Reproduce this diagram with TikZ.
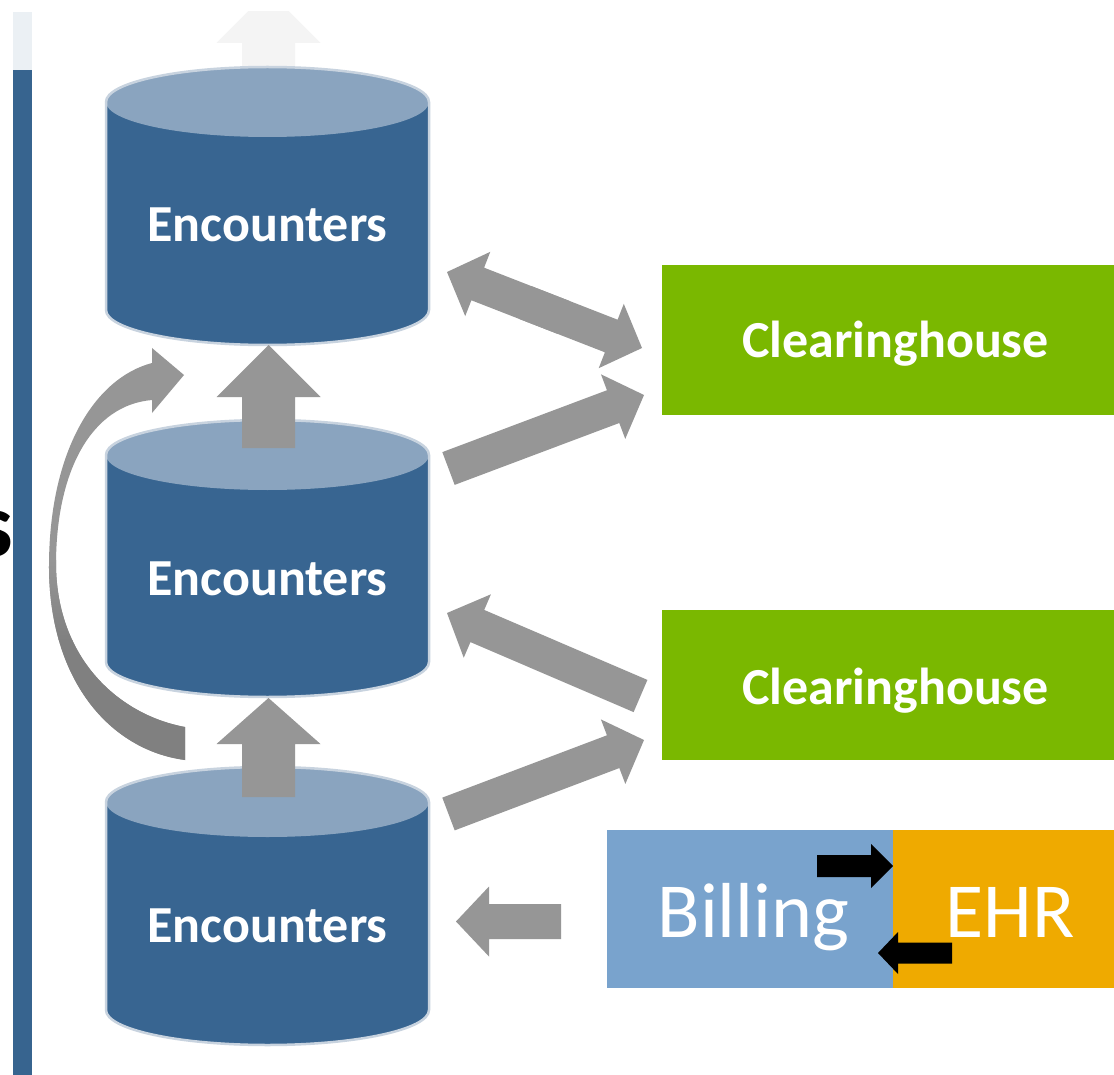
\documentclass[tikz,border=0pt]{standalone}
\usepackage{fontspec}
\setmainfont{Carlito}
\usetikzlibrary{calc}

\definecolor{encbody}{HTML}{386591}
\definecolor{encface}{HTML}{8AA4BF}
\definecolor{encrim}{HTML}{C8D3DF}
\definecolor{flowgray}{HTML}{969696}
\definecolor{flowdark}{HTML}{808080}
\definecolor{fadegray}{HTML}{F4F4F4}
\definecolor{chgreen}{HTML}{7AB800}
\definecolor{billblue}{HTML}{79A3CD}
\definecolor{ehrgold}{HTML}{EFAA00}
\definecolor{barblue}{HTML}{37648F}
\definecolor{barlight}{HTML}{EBF0F4}

% block arrow: style, tail, tip, shaft half-width, head half-width, head length
\newcommand\blockarrow[6]{%
  \coordinate (ba-neck) at ($(#3)!#6!(#2)$);
  \fill[#1] ($(#2)!#4!90:(#3)$) -- ($(ba-neck)!#4!90:(#3)$)
    -- ($(ba-neck)!#5!90:(#3)$) -- (#3)
    -- ($(ba-neck)!#5!-90:(#3)$) -- ($(ba-neck)!#4!-90:(#3)$)
    -- ($(#2)!#4!-90:(#3)$) -- cycle;
}

% database cylinder: label name, centre x, top ellipse y, bottom ellipse y
\newcommand\encdb[4]{%
  \fill[encbody] (#2-161.5,#3) -- (#2-161.5,#4)
    arc[start angle=180,end angle=0,x radius=161.5,y radius=35]
    -- (#2+161.5,#3)
    arc[start angle=0,end angle=-180,x radius=161.5,y radius=35] -- cycle;
  \fill[encface] (#2,#3) ellipse[x radius=161.5,y radius=35];
  \draw[encrim,line width=2.5] (#2-161.5,#3) -- (#2-161.5,#4)
    arc[start angle=180,end angle=0,x radius=161.5,y radius=35]
    -- (#2+161.5,#3)
    arc[start angle=0,end angle=-180,x radius=161.5,y radius=35] -- cycle;
  \node[enctext,anchor=base] (#1) at (#2,#3+140) {Encounters};
}

\tikzset{
  enctext/.style={text=white,inner sep=0,font=\fontsize{52}{60}\selectfont\bfseries},
  chbox/.style={fill=chgreen,draw=none,minimum width=452,minimum height=150,inner sep=0},
  chtext/.style={text=white,inner sep=0,font=\fontsize{52}{60}\selectfont\bfseries},
  bigtext/.style={text=white,inner sep=0,font=\fontsize{78}{90}\selectfont},
  billbox/.style={fill=billblue,draw=none,minimum width=286,minimum height=158,inner sep=0},
  ehrbox/.style={fill=ehrgold,draw=none,minimum width=221,minimum height=158,inner sep=0},
}

\begin{document}
\begin{tikzpicture}[x=1pt,y=-1pt]
\useasboundingbox (0,0) rectangle (1114,1075);
\fill[white] (0,0) rectangle (1114,1075);

% cut-off word at the left edge
\begin{scope}
  \clip (0,0) rectangle (40,1075);
  \node[anchor=base east,inner sep=0,font=\fontsize{92}{100}\selectfont\bfseries] (edgeword) at (13,556) {s};
\end{scope}

% side bar and faded arrow leaving the top
\begin{scope}
  \clip (0,12) rectangle (1114,1075);
  \fill[barlight] (13,12) rectangle (32,70);
  \fill[barblue] (13,70) rectangle (32,1075);
  \coordinate (outT) at (268.5,100);
  \coordinate (outP) at (268.5,-9);
  \blockarrow{fadegray}{outT}{outP}{26.5pt}{52pt}{52pt}
\end{scope}

% databases
\encdb{enc1}{267.5}{102}{310}
\encdb{enc2}{267.5}{455}{662}
\encdb{enc3}{267.5}{802}{1010}

% upward flow between databases
\coordinate (up1T) at (268.5,448);
\coordinate (up1P) at (268.5,345);
\blockarrow{flowgray}{up1T}{up1P}{26.5pt}{52pt}{52pt}
\coordinate (up2T) at (268.5,797);
\coordinate (up2P) at (268.5,698);
\blockarrow{flowgray}{up2T}{up2P}{26.5pt}{52pt}{46pt}

% curved bypass arrow from the lowest to the highest database
\def\bypass{(185,760) -- (185,727)
  .. controls (120,715) and (57,660) .. (56,565)
  .. controls (56,470) and (92,405) .. (152,400)
  -- (152,413) -- (184,375) -- (152,348) -- (152,363)
  .. controls (95,378) and (50,450) .. (49,563)
  .. controls (48,680) and (110,750) .. (185,760) -- cycle}
\fill[flowgray] \bypass;
\begin{scope}
  \clip \bypass;
  \shade[top color=flowgray,bottom color=flowdark] (0,560) rectangle (200,640);
  \fill[flowdark] (0,639) rectangle (200,780);
\end{scope}

% clearinghouses
\node[chbox] (ch1) at (888,340) {};
\node[chtext,anchor=base] (ch1label) at (895.5,358) {Clearinghouse};
\node[chbox] (ch2) at (888,685) {};
\node[chtext,anchor=base] (ch2label) at (895.5,704) {Clearinghouse};

% billing and EHR
\node[billbox] (bill) at (750,909) {};
\node[ehrbox] (ehr) at (1003.5,909) {};
\node[bigtext,anchor=base] (billlabel) at (753.5,937) {Billing};
\node[bigtext,anchor=base] (ehrlabel) at (1010,937) {EHR};
\coordinate (beT) at (817,866);
\coordinate (beP) at (893,866);
\blockarrow{black}{beT}{beP}{11pt}{22pt}{22pt}
\coordinate (ebT) at (952,953);
\coordinate (ebP) at (878,953);
\blockarrow{black}{ebT}{ebP}{10.5pt}{21pt}{20pt}

% exchanges with the clearinghouses
\coordinate (aL) at (447,272);
\coordinate (aR) at (642,348);
\coordinate (aM1) at ($(aL)!0.6!(aR)$);
\coordinate (aM2) at ($(aR)!0.6!(aL)$);
\blockarrow{flowgray}{aM1}{aL}{17.5pt}{34.5pt}{33pt}
\blockarrow{flowgray}{aM2}{aR}{17.5pt}{34.5pt}{33pt}

\coordinate (bT) at (448.5,468.5);
\coordinate (bP) at (644,395);
\blockarrow{flowgray}{bT}{bP}{17.5pt}{34.5pt}{33pt}

\coordinate (cT) at (640.5,696);
\coordinate (cP) at (447,613);
\blockarrow{flowgray}{cT}{cP}{17.5pt}{34.5pt}{33pt}

\coordinate (dT) at (448.5,814);
\coordinate (dP) at (644,740);
\blockarrow{flowgray}{dT}{dP}{17.5pt}{34.5pt}{33pt}

% billing feed into the lowest database
\coordinate (gT) at (561,921.5);
\coordinate (gP) at (456,921.5);
\blockarrow{flowgray}{gT}{gP}{17.5pt}{35pt}{33pt}
\end{tikzpicture}
\end{document}
